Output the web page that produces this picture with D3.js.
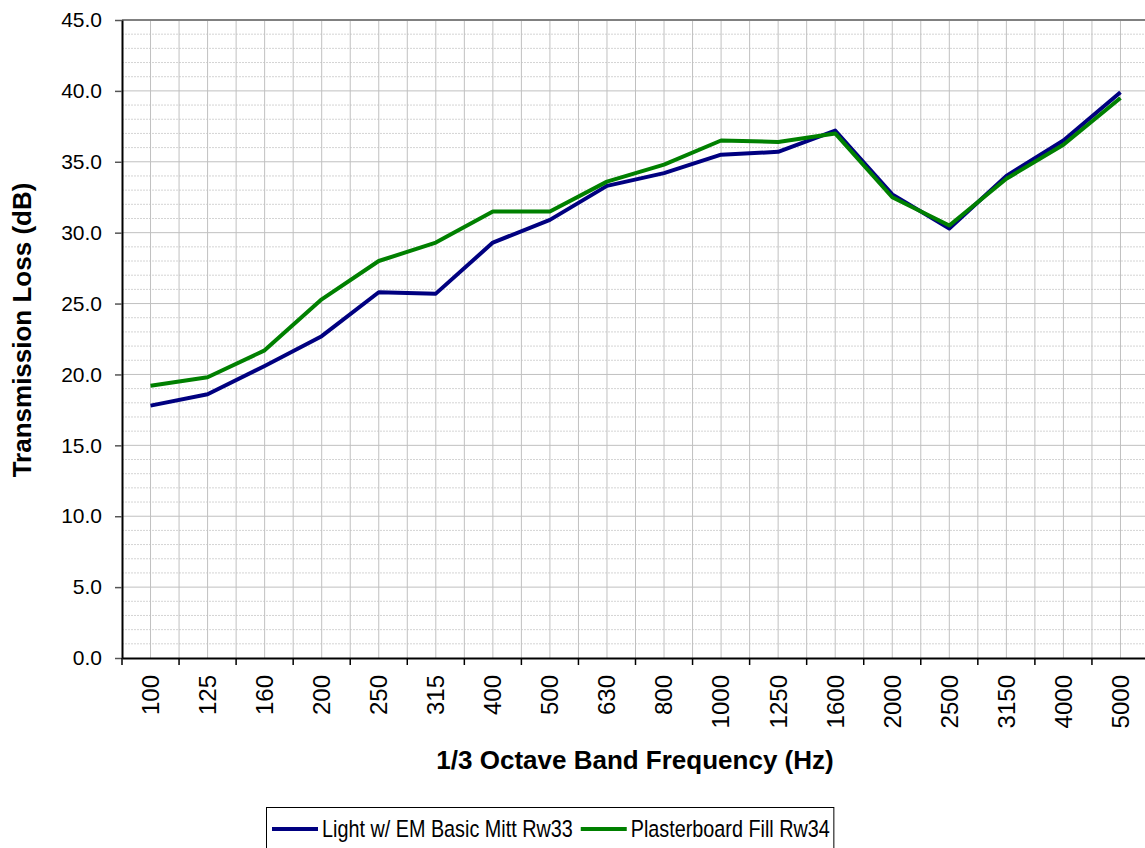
<!DOCTYPE html>
<html>
<head>
<meta charset="utf-8">
<script src="https://cdn.jsdelivr.net/npm/d3@7"></script>
<style>
    body { margin: 0; background: #fff; }
    text { font-family: Arial, "Liberation Sans", sans-serif; fill: #000; }
</style>
</head>
<body>
<div id="chart-area"></div>
<script>
// 1/3 octave band centre frequencies
let bands = ["100", "125", "160", "200", "250", "315", "400", "500", "630", "800",
    "1000", "1250", "1600", "2000", "2500", "3150", "4000", "5000"];

// transmission loss, dB
let lightMitt = [17.8, 18.6, 20.6, 22.7, 25.8, 25.7, 29.3, 30.9, 33.3, 34.2,
    35.5, 35.7, 37.2, 32.7, 30.3, 34.0, 36.5, 39.9];
let plasterFill = [19.2, 19.8, 21.7, 25.3, 28.0, 29.3, 31.5, 31.5, 33.6, 34.8,
    36.5, 36.4, 37.0, 32.5, 30.5, 33.8, 36.2, 39.5];

let seriesNames = ["Light w/ EM Basic Mitt Rw33", "Plasterboard Fill Rw34"];
let seriesColors = ["#000080", "#008000"];
let yTicks = [0, 5, 10, 15, 20, 25, 30, 35, 40, 45];

let margin = { top: 20, left: 122 };
let plotW = 1027, plotH = 638;

let svg = d3.select("#chart-area").append("svg")
    .attr("width", 1145)
    .attr("height", 848);

let g = svg.append("g")
    .attr("transform", "translate(" + margin.left + "," + margin.top + ")");

let x = d3.scaleBand().domain(bands).range([0, plotW]);
let y = d3.scaleLinear().domain([0, 45]).range([plotH, 0]);
let bw = x.bandwidth();

// minor horizontal grid, every 1 dB
g.append("g").selectAll("line")
    .data(d3.range(1, 45).filter(v => v % 5 !== 0))
    .enter().append("line")
    .attr("x1", 0).attr("x2", plotW)
    .attr("y1", d => y(d)).attr("y2", d => y(d))
    .attr("stroke", "#d4d4d4")
    .attr("stroke-dasharray", "2,1");

// major horizontal grid
g.append("g").selectAll("line")
    .data(yTicks.slice(1, -1))
    .enter().append("line")
    .attr("x1", 0).attr("x2", plotW)
    .attr("y1", d => y(d)).attr("y2", d => y(d))
    .attr("stroke", "#c0c0c0");

// vertical grid at band edges and centres
let vLines = [];
bands.forEach(b => { vLines.push(x(b)); vLines.push(x(b) + bw / 2); });
g.append("g").selectAll("line")
    .data(vLines.slice(1))
    .enter().append("line")
    .attr("x1", d => d).attr("x2", d => d)
    .attr("y1", 0).attr("y2", plotH)
    .attr("stroke", "#c0c0c0");

// top border
g.append("line")
    .attr("x1", 0).attr("x2", plotW)
    .attr("y1", 0).attr("y2", 0)
    .attr("stroke", "#808080")
    .attr("stroke-width", 2);

// y axis
let yAxis = g.append("g")
    .attr("class", "y-axis")
    .call(d3.axisLeft(y).tickValues(yTicks).tickFormat(d3.format(".1f")).tickSize(7).tickSizeOuter(0));
yAxis.select(".domain").attr("stroke", "#000").attr("stroke-width", 2);
yAxis.selectAll(".tick line").attr("stroke", "#555").attr("stroke-width", 1.5);
yAxis.selectAll(".tick text")
    .attr("x", -20)
    .style("font-size", "21px")
    .style("font-family", "Arial, 'Liberation Sans', sans-serif");

// x axis
let xAxis = g.append("g")
    .attr("class", "x-axis")
    .attr("transform", "translate(0," + plotH + ")")
    .call(d3.axisBottom(x).tickSize(0).tickSizeOuter(0));
xAxis.select(".domain").attr("stroke", "#000").attr("stroke-width", 2);
xAxis.selectAll(".tick text")
    .attr("transform", "rotate(-90)")
    .attr("x", -17)
    .attr("y", 0)
    .attr("dy", "0.35em")
    .style("text-anchor", "end")
    .style("font-size", "24px")
    .style("font-family", "Arial, 'Liberation Sans', sans-serif");

// x ticks on the band edges
xAxis.append("g").selectAll("line")
    .data(bands.map(b => x(b)))
    .enter().append("line")
    .attr("x1", d => d).attr("x2", d => d)
    .attr("y1", 0).attr("y2", 7)
    .attr("stroke", "#000")
    .attr("stroke-width", 1.5);

// lines
let line = d3.line()
    .x((d, i) => x(bands[i]) + bw / 2)
    .y(d => y(d));

[lightMitt, plasterFill].forEach((s, i) => {
    g.append("path")
        .datum(s)
        .attr("fill", "none")
        .attr("stroke", seriesColors[i])
        .attr("stroke-width", 4)
        .attr("stroke-linejoin", "round")
        .attr("d", line);
});

// axis titles
svg.append("text")
    .attr("x", 635)
    .attr("y", 769)
    .attr("text-anchor", "middle")
    .style("font-size", "26px")
    .style("font-weight", "bold")
    .text("1/3 Octave Band Frequency (Hz)");

svg.append("text")
    .attr("transform", "translate(31,330) rotate(-90)")
    .attr("text-anchor", "middle")
    .style("font-size", "26px")
    .style("font-weight", "bold")
    .text("Transmission Loss (dB)");

// legend, laid out from the measured text widths
let legend = svg.append("g");
let box = legend.append("rect")
    .attr("x", 266.5).attr("y", 807.5)
    .attr("height", 45)
    .attr("fill", "#fff")
    .attr("stroke", "#000");

let cx = 272;
seriesNames.forEach((name, i) => {
    legend.append("line")
        .attr("x1", cx).attr("x2", cx + 46)
        .attr("y1", 829).attr("y2", 829)
        .attr("stroke", seriesColors[i])
        .attr("stroke-width", 4);
    let t = legend.append("text")
        .attr("transform", "translate(" + (cx + 50) + ",837) scale(1,1.2)")
        .style("font-size", "19.8px")
        .text(name);
    cx += 50 + t.node().getComputedTextLength() + (i === 0 ? 8 : 3);
});
box.attr("width", cx - 266.5 + 1);
</script>
</body>
</html>
